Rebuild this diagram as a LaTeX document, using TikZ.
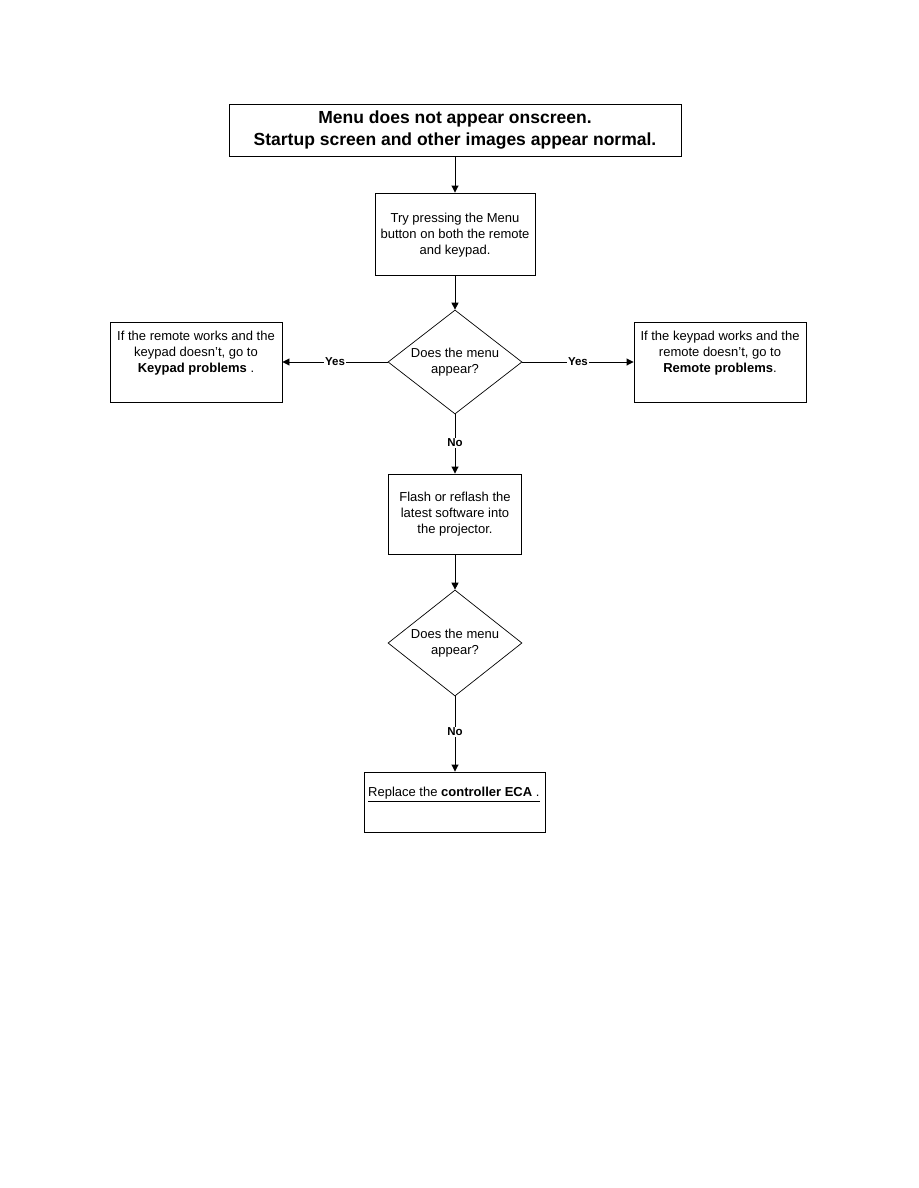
\documentclass[tikz,border=0pt]{standalone}
\usepackage{fontspec}
\setmainfont{Liberation Sans}
\usetikzlibrary{arrows.meta,shapes.geometric}
\begin{document}
\begin{tikzpicture}[x=1pt,y=-1pt,
  box/.style={draw,line width=0.9pt,inner sep=0pt,anchor=center},
  dia/.style={draw,line width=0.7pt,diamond,aspect=1.29,inner sep=0pt,minimum width=134pt,minimum height=104pt,anchor=center},
  txt/.style={font=\fontsize{13}{16}\selectfont,align=center,inner sep=0pt},
  lbl/.style={font=\bfseries\fontsize{11.5}{13}\selectfont,fill=white,inner sep=1pt},
  arr/.style={line width=0.9pt,-{Triangle[length=7pt,width=7pt]}}]
\useasboundingbox (0,0) rectangle (918,1188);
% title
\node[box,minimum width=452pt,minimum height=52pt,align=center,font=\bfseries\fontsize{17.5}{22.5}\selectfont] (title) at (455,130) {Menu does not appear onscreen.\\Startup screen and other images appear normal.};
% try pressing
\node[box,minimum width=160pt,minimum height=82pt] (try) at (455,234) {};
\node[txt] (trytxt) at (455,235) {Try pressing the Menu\\button on both the remote\\and keypad.};
% diamond 1
\node[dia] (d1) at (455,362) {};
\node[txt] (d1txt) at (455,362) {Does the menu\\appear?};
% left box
\node[box,minimum width=172pt,minimum height=80pt] (left) at (196,362) {};
\node[txt] (lefttxt) at (196,353) {If the remote works and the\\keypad doesn't, go to\\\textbf{Keypad problems} .};
% right box
\node[box,minimum width=172pt,minimum height=80pt] (right) at (720,362) {};
\node[txt] (righttxt) at (720,353) {If the keypad works and the\\remote doesn't, go to\\\textbf{Remote problems}.};
% flash box
\node[box,minimum width=133pt,minimum height=80pt] (flash) at (455,514) {};
\node[txt] (flashtxt) at (455,514) {Flash or reflash the\\latest software into\\the projector.};
% diamond 2
\node[dia,minimum height=106pt] (d2) at (455,643) {};
\node[txt] (d2txt) at (455,643) {Does the menu\\appear?};
% replace box
\node[box,minimum width=181pt,minimum height=60pt] (repl) at (455,802) {};
\node[txt,anchor=west] (repltxt) at (368,793) {Replace the \textbf{controller ECA} .};
\coordinate (ulA) at (368,801);
\coordinate (ulB) at (540,801);
\draw[line width=0.8pt] (ulA) -- (ulB);
% connectors
\draw[arr] (title.south) -- (try.north);
\draw[arr] (try.south) -- (d1.north);
\draw[arr] (d1.west) -- node[lbl,pos=0.5]{Yes} (left.east);
\draw[arr] (d1.east) -- node[lbl,pos=0.5]{Yes} (right.west);
\draw[arr] (d1.south) -- node[lbl,pos=0.48]{No} (flash.north);
\draw[arr] (flash.south) -- (d2.north);
\draw[arr] (d2.south) -- node[lbl,pos=0.47]{No} (repl.north);
\end{tikzpicture}
\end{document}
